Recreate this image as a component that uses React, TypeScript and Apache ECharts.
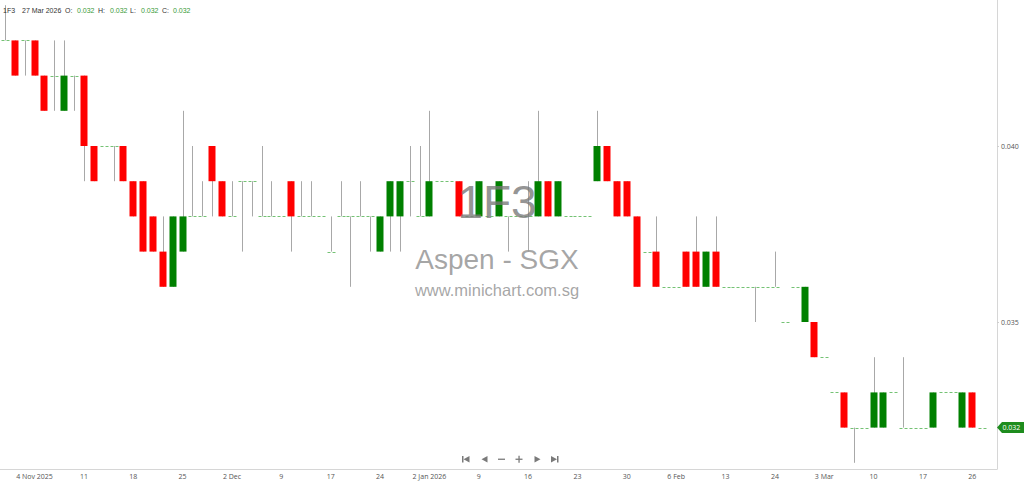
import React, { useEffect, useRef } from 'react';
import * as echarts from 'echarts';

// trading days shown on the chart
const dates = [
  '30 Oct 2025', '31 Oct 2025', '3 Nov 2025', '4 Nov 2025', '5 Nov 2025', '6 Nov 2025', '7 Nov 2025', '10 Nov 2025', '11 Nov 2025', '12 Nov 2025',
  '13 Nov 2025', '14 Nov 2025', '17 Nov 2025', '18 Nov 2025', '19 Nov 2025', '20 Nov 2025', '21 Nov 2025', '24 Nov 2025', '25 Nov 2025', '26 Nov 2025',
  '27 Nov 2025', '28 Nov 2025', '1 Dec 2025', '2 Dec 2025', '3 Dec 2025', '4 Dec 2025', '5 Dec 2025', '8 Dec 2025', '9 Dec 2025', '10 Dec 2025',
  '11 Dec 2025', '12 Dec 2025', '16 Dec 2025', '17 Dec 2025', '18 Dec 2025', '19 Dec 2025', '22 Dec 2025', '23 Dec 2025', '24 Dec 2025', '26 Dec 2025',
  '29 Dec 2025', '30 Dec 2025', '31 Dec 2025', '2 Jan 2026', '5 Jan 2026', '6 Jan 2026', '7 Jan 2026', '8 Jan 2026', '9 Jan 2026', '12 Jan 2026',
  '13 Jan 2026', '14 Jan 2026', '15 Jan 2026', '16 Jan 2026', '19 Jan 2026', '20 Jan 2026', '21 Jan 2026', '22 Jan 2026', '23 Jan 2026', '26 Jan 2026',
  '27 Jan 2026', '28 Jan 2026', '29 Jan 2026', '30 Jan 2026', '2 Feb 2026', '3 Feb 2026', '4 Feb 2026', '5 Feb 2026', '6 Feb 2026', '9 Feb 2026',
  '10 Feb 2026', '11 Feb 2026', '12 Feb 2026', '13 Feb 2026', '16 Feb 2026', '19 Feb 2026', '20 Feb 2026', '23 Feb 2026', '24 Feb 2026', '25 Feb 2026',
  '26 Feb 2026', '27 Feb 2026', '2 Mar 2026', '3 Mar 2026', '4 Mar 2026', '5 Mar 2026', '6 Mar 2026', '9 Mar 2026', '10 Mar 2026', '11 Mar 2026',
  '12 Mar 2026', '13 Mar 2026', '16 Mar 2026', '17 Mar 2026', '18 Mar 2026', '19 Mar 2026', '24 Mar 2026', '25 Mar 2026', '26 Mar 2026', '27 Mar 2026',
];

const opens = [
  0.043, 0.043, 0.043, 0.043, 0.042, 0.042, 0.041, 0.042, 0.042, 0.040,
  0.040, 0.040, 0.040, 0.039, 0.039, 0.038, 0.037, 0.036, 0.037, 0.038,
  0.038, 0.040, 0.039, 0.038, 0.039, 0.039, 0.038, 0.038, 0.038, 0.039,
  0.038, 0.038, 0.038, 0.037, 0.038, 0.038, 0.038, 0.038, 0.037, 0.038,
  0.038, 0.039, 0.038, 0.038, 0.039, 0.039, 0.039, 0.038, 0.038, 0.038,
  0.038, 0.038, 0.038, 0.038, 0.038, 0.039, 0.038, 0.038, 0.038, 0.038,
  0.039, 0.040, 0.039, 0.039, 0.038, 0.037, 0.037, 0.036, 0.036, 0.037,
  0.037, 0.036, 0.037, 0.036, 0.036, 0.036, 0.036, 0.036, 0.036, 0.035,
  0.036, 0.035, 0.035, 0.034, 0.033, 0.033, 0.032, 0.032, 0.032, 0.032,
  0.033, 0.032, 0.032, 0.032, 0.032, 0.033, 0.033, 0.032, 0.033, 0.032,
];

const highs = [
  0.044, 0.043, 0.043, 0.043, 0.042, 0.043, 0.043, 0.042, 0.042, 0.040,
  0.040, 0.040, 0.040, 0.039, 0.039, 0.038, 0.038, 0.038, 0.041, 0.040,
  0.039, 0.040, 0.039, 0.039, 0.039, 0.039, 0.040, 0.039, 0.038, 0.039,
  0.039, 0.039, 0.038, 0.038, 0.039, 0.038, 0.039, 0.038, 0.038, 0.039,
  0.039, 0.040, 0.040, 0.041, 0.039, 0.039, 0.039, 0.038, 0.039, 0.038,
  0.039, 0.038, 0.038, 0.039, 0.041, 0.039, 0.039, 0.038, 0.038, 0.038,
  0.041, 0.040, 0.039, 0.039, 0.038, 0.037, 0.038, 0.036, 0.036, 0.037,
  0.038, 0.037, 0.038, 0.036, 0.036, 0.036, 0.036, 0.036, 0.037, 0.035,
  0.036, 0.036, 0.035, 0.034, 0.033, 0.033, 0.032, 0.032, 0.034, 0.033,
  0.033, 0.034, 0.032, 0.032, 0.033, 0.033, 0.033, 0.033, 0.033, 0.032,
];

const lows = [
  0.043, 0.042, 0.042, 0.042, 0.041, 0.041, 0.041, 0.041, 0.039, 0.039,
  0.040, 0.039, 0.039, 0.038, 0.037, 0.037, 0.036, 0.036, 0.037, 0.038,
  0.038, 0.038, 0.038, 0.038, 0.037, 0.038, 0.038, 0.038, 0.038, 0.037,
  0.038, 0.038, 0.038, 0.037, 0.038, 0.036, 0.038, 0.037, 0.037, 0.037,
  0.037, 0.038, 0.038, 0.038, 0.039, 0.039, 0.038, 0.038, 0.038, 0.038,
  0.038, 0.037, 0.038, 0.037, 0.038, 0.038, 0.038, 0.038, 0.038, 0.038,
  0.039, 0.039, 0.038, 0.038, 0.036, 0.037, 0.036, 0.036, 0.036, 0.036,
  0.036, 0.036, 0.036, 0.036, 0.036, 0.036, 0.035, 0.036, 0.036, 0.035,
  0.036, 0.035, 0.034, 0.034, 0.033, 0.032, 0.031, 0.032, 0.032, 0.032,
  0.033, 0.032, 0.032, 0.032, 0.032, 0.033, 0.033, 0.032, 0.032, 0.032,
];

const closes = [
  0.043, 0.042, 0.043, 0.042, 0.041, 0.042, 0.042, 0.042, 0.040, 0.039,
  0.040, 0.040, 0.039, 0.038, 0.037, 0.037, 0.036, 0.038, 0.038, 0.038,
  0.038, 0.039, 0.038, 0.038, 0.039, 0.039, 0.038, 0.038, 0.038, 0.038,
  0.038, 0.038, 0.038, 0.037, 0.038, 0.038, 0.038, 0.038, 0.038, 0.039,
  0.039, 0.039, 0.038, 0.039, 0.039, 0.039, 0.038, 0.038, 0.039, 0.038,
  0.039, 0.038, 0.038, 0.038, 0.039, 0.038, 0.039, 0.038, 0.038, 0.038,
  0.040, 0.039, 0.038, 0.038, 0.036, 0.037, 0.036, 0.036, 0.036, 0.036,
  0.036, 0.037, 0.036, 0.036, 0.036, 0.036, 0.036, 0.036, 0.036, 0.035,
  0.036, 0.036, 0.034, 0.034, 0.033, 0.032, 0.032, 0.032, 0.033, 0.033,
  0.033, 0.032, 0.032, 0.032, 0.033, 0.033, 0.033, 0.033, 0.032, 0.032,
];

const yLabels = [0.035, 0.040];
const symbol = '1F3';
const watermarkName = 'Aspen - SGX';
const watermarkSite = 'www.minichart.com.sg';

const UP = '#008000';
const DOWN = '#ff0000';
const WICK = '#a8a8a8';
const DOJI = '#74c274';
const FONT = '"Open Sans", "Noto Sans", sans-serif';
const HEADER_FONT = '"Liberation Sans", Arial, sans-serif';

const tickLabel = (i: number) => {
  const [d, m, y] = dates[i].split(' ');
  if (i < 5) return dates[i];
  const [, pm, py] = dates[i - 5].split(' ');
  if (py !== y) return dates[i];
  if (pm !== m) return `${d} ${m}`;
  return d;
};

const showTick = (i: number) => i % 5 === 3 && i < dates.length;

export default function App() {
  const chartRef = useRef<HTMLDivElement>(null);

  useEffect(() => {
    if (!chartRef.current) return;
    const chart = echarts.init(chartRef.current, undefined, { renderer: 'svg' });

    const ohlc = dates.map((_, i) => [i, opens[i], closes[i], lows[i], highs[i]]);

    chart.setOption({
      animation: false,
      backgroundColor: '#ffffff',
      grid: { left: 0, right: 27, top: 0, bottom: 15, containLabel: false, outerBoundsMode: 'none' },
      xAxis: {
        type: 'category',
        data: [...dates, ''],
        boundaryGap: true,
        axisLine: { lineStyle: { color: '#d6d6d6' } },
        axisTick: {
          alignWithLabel: true,
          interval: (i: number) => showTick(i),
          length: 3,
          lineStyle: { color: '#cfcfcf' },
        },
        axisLabel: {
          interval: (i: number) => showTick(i),
          formatter: (_: string, i: number) => tickLabel(i),
          fontSize: 7,
          color: '#555',
          fontFamily: FONT,
          margin: 4,
        },
        splitLine: { show: false },
      },
      yAxis: {
        type: 'value',
        position: 'right',
        min: 0.030824,
        max: 0.044148,
        scale: true,
        axisLine: { show: true, lineStyle: { color: '#d6d6d6' } },
        axisTick: { show: true, length: 2, customValues: yLabels, lineStyle: { color: '#cfcfcf' } },
        axisLabel: {
          customValues: yLabels,
          formatter: (v: number) => v.toFixed(3),
          fontSize: 7,
          color: '#555',
          fontFamily: FONT,
          margin: 4,
        },
        splitLine: { show: false },
      },
      series: [
        {
          type: 'custom',
          data: ohlc,
          encode: { x: 0, y: [1, 2, 3, 4] },
          clip: true,
          renderItem: (params: any, api: any) => {
            const i = api.value(0);
            const o = api.value(1);
            const c = api.value(2);
            const l = api.value(3);
            const h = api.value(4);
            const pO = api.coord([i, o]);
            const pC = api.coord([i, c]);
            const pH = api.coord([i, h]);
            const pL = api.coord([i, l]);
            const bw = Math.round(api.size([1, 0])[0] * 0.72);
            const x = Math.round(pO[0]) + 0.5;
            const children: any[] = [];
            if (h !== l) {
              children.push({
                type: 'line',
                shape: { x1: x, y1: pH[1], x2: x, y2: pL[1] },
                style: { stroke: WICK, lineWidth: 1 },
              });
            }
            if (o === c) {
              const yy = Math.round(pO[1]) + 0.5;
              children.push({
                type: 'line',
                shape: { x1: x - bw / 2 - 0.5, y1: yy, x2: x + bw / 2 + 0.5, y2: yy },
                style: { stroke: DOJI, lineWidth: 1, lineDash: [3, 2] },
              });
            } else {
              const top = Math.min(pO[1], pC[1]);
              const hh = Math.abs(pO[1] - pC[1]);
              children.push({
                type: 'rect',
                shape: { x: x - 0.5 - bw / 2, y: top, width: bw, height: hh },
                style: { fill: c > o ? UP : DOWN },
              });
            }
            return { type: 'group', children };
          },
        },
      ],
    });

    const last = dates.length - 1;
    const yLast = chart.convertToPixel({ yAxisIndex: 0 }, closes[last]) as number;
    const fmt = (v: number) => v.toFixed(3);
    const grey = '#7a7a7a';

    const headerItems = [
      { x: 3, text: symbol, color: '#333' },
      { x: 22, text: dates[last], color: '#333' },
      { x: 65, text: 'O:', color: '#333' },
      { x: 77, text: fmt(opens[last]), color: '#3a9a3a' },
      { x: 98, text: 'H:', color: '#333' },
      { x: 110, text: fmt(highs[last]), color: '#3a9a3a' },
      { x: 130, text: 'L:', color: '#333' },
      { x: 141, text: fmt(lows[last]), color: '#3a9a3a' },
      { x: 162, text: 'C:', color: '#333' },
      { x: 173, text: fmt(closes[last]), color: '#3a9a3a' },
    ];

    chart.setOption({
      graphic: [
        ...headerItems.map((h, k) => ({
          type: 'text',
          id: `hdr${k}`,
          x: h.x,
          y: 10,
          z: 100,
          style: { text: h.text, fill: h.color, font: `7px ${HEADER_FONT}`, verticalAlign: 'middle' },
        })),
        {
          type: 'text',
          id: 'wm1',
          x: 497,
          y: 202,
          z: 50,
          style: {
            text: symbol,
            fill: 'rgba(120,120,120,0.8)',
            font: '46px "Liberation Sans", Arial, sans-serif',
            align: 'center',
            verticalAlign: 'middle',
          },
        },
        {
          type: 'text',
          id: 'wm2',
          x: 497,
          y: 259,
          z: 50,
          style: {
            text: watermarkName,
            fill: 'rgba(150,150,150,0.85)',
            font: '28px "Liberation Sans", Arial, sans-serif',
            align: 'center',
            verticalAlign: 'middle',
          },
        },
        {
          type: 'text',
          id: 'wm3',
          x: 497,
          y: 290,
          z: 50,
          style: {
            text: watermarkSite,
            fill: 'rgba(150,150,150,0.85)',
            font: '16.5px "Liberation Sans", Arial, sans-serif',
            align: 'center',
            verticalAlign: 'middle',
          },
        },
        {
          type: 'polygon',
          id: 'badge',
          z: 100,
          shape: {
            points: [
              [997, yLast],
              [1002, yLast - 5.5],
              [1024, yLast - 5.5],
              [1024, yLast + 5.5],
              [1002, yLast + 5.5],
            ],
          },
          style: { fill: '#1e8c1e' },
        },
        {
          type: 'text',
          id: 'badgeText',
          z: 101,
          x: 1002.5,
          y: yLast,
          style: { text: fmt(closes[last]), fill: '#fff', font: `7px ${FONT}`, verticalAlign: 'middle' },
        },
        // navigation buttons
        { type: 'rect', id: 'n1a', z: 100, shape: { x: 462, y: 456, width: 1.5, height: 6.5 }, style: { fill: grey } },
        { type: 'polygon', id: 'n1b', z: 100, shape: { points: [[463.5, 459.2], [469.5, 456], [469.5, 462.5]] }, style: { fill: grey } },
        { type: 'polygon', id: 'n2', z: 100, shape: { points: [[481.5, 459.2], [487.5, 456], [487.5, 462.5]] }, style: { fill: grey } },
        { type: 'rect', id: 'n3', z: 100, shape: { x: 498, y: 458.6, width: 7, height: 1.3 }, style: { fill: grey } },
        { type: 'rect', id: 'n4a', z: 100, shape: { x: 515.5, y: 458.6, width: 7, height: 1.3 }, style: { fill: grey } },
        { type: 'rect', id: 'n4b', z: 100, shape: { x: 518.4, y: 455.8, width: 1.3, height: 7 }, style: { fill: grey } },
        { type: 'polygon', id: 'n5', z: 100, shape: { points: [[534.5, 456], [534.5, 462.5], [540.5, 459.2]] }, style: { fill: grey } },
        { type: 'polygon', id: 'n6a', z: 100, shape: { points: [[551, 456], [551, 462.5], [557, 459.2]] }, style: { fill: grey } },
        { type: 'rect', id: 'n6b', z: 100, shape: { x: 557, y: 456, width: 1.5, height: 6.5 }, style: { fill: grey } },
      ],
    });

    return () => {
      chart.dispose();
    };
  }, []);

  return (
    <div
      ref={chartRef}
      style={{ position: 'fixed', left: 0, top: 0, width: 1024, height: 484, background: '#fff' }}
    />
  );
}
